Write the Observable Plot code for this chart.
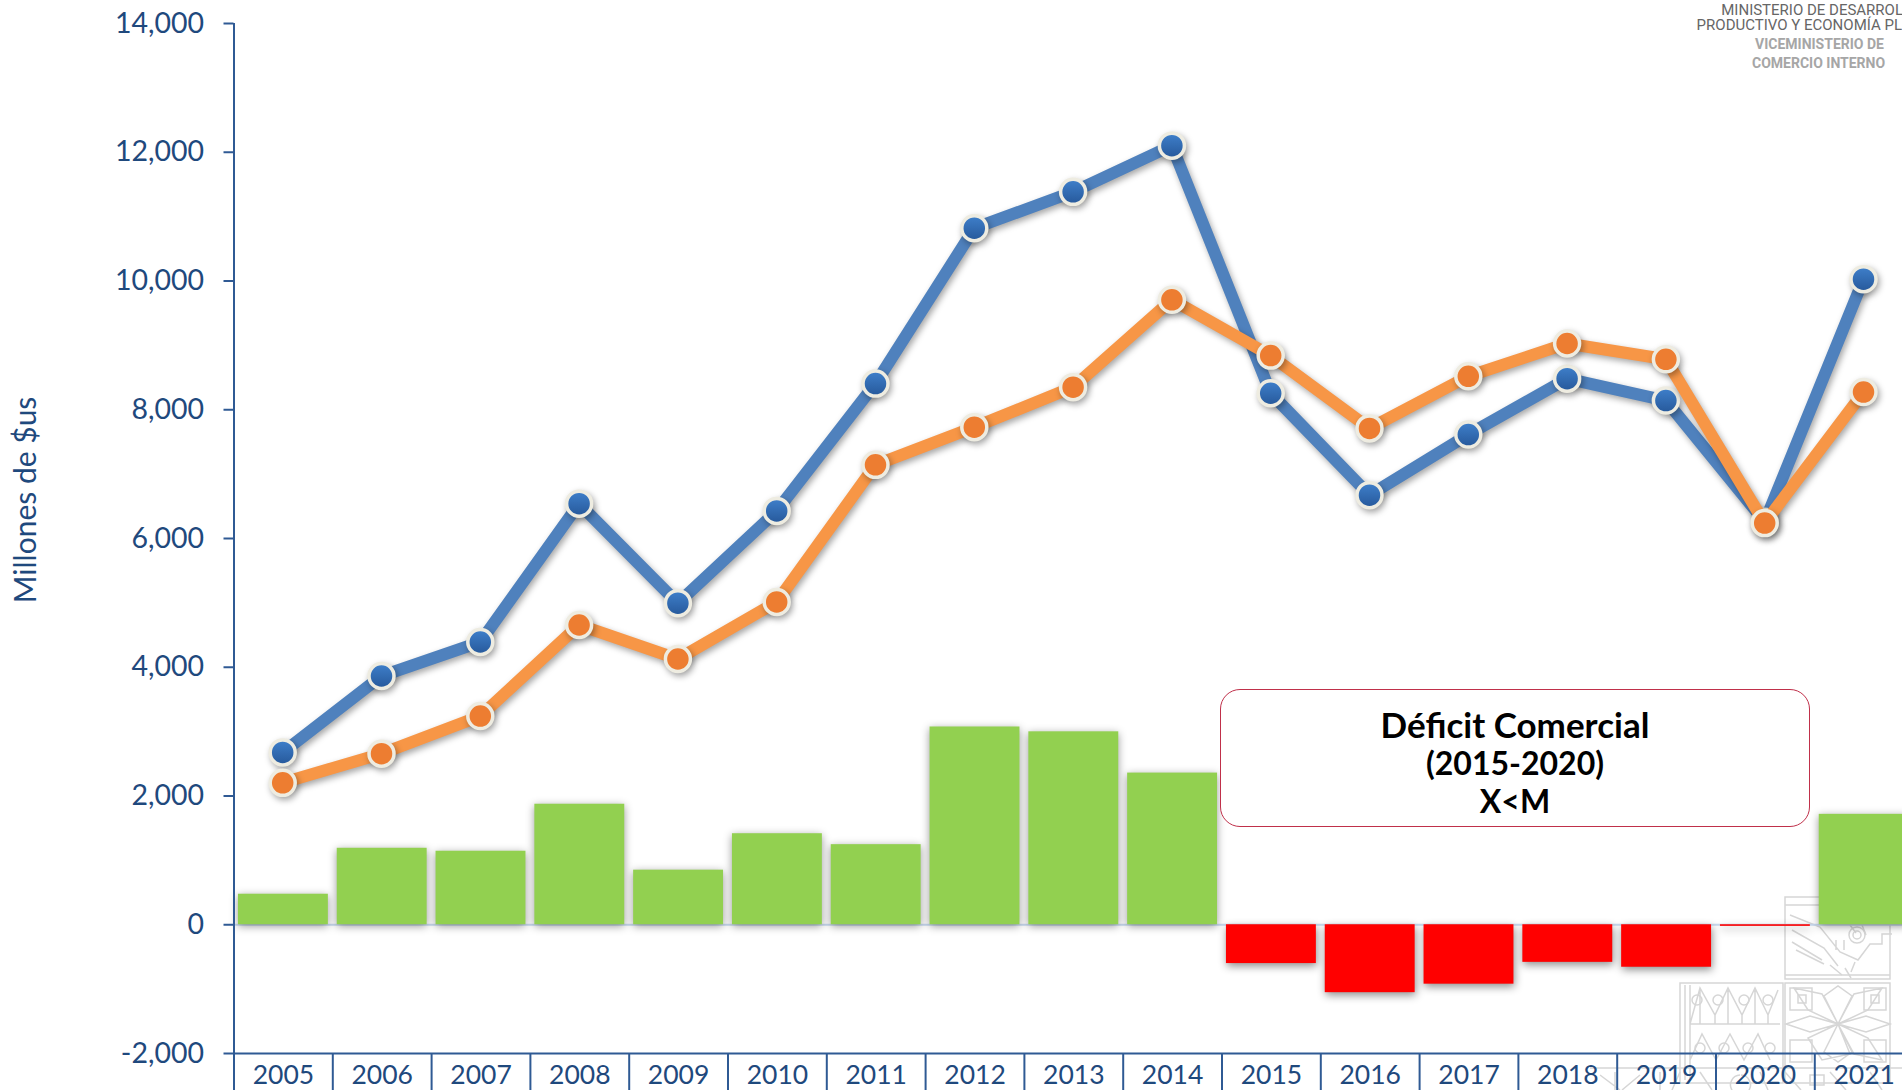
<!DOCTYPE html>
<html><head><meta charset="utf-8">
<script src="https://cdn.jsdelivr.net/npm/d3@7"></script>
<script src="https://cdn.jsdelivr.net/npm/@observablehq/plot@0.6"></script>
<style>
html,body{margin:0;padding:0;background:#fff;overflow:hidden;width:1902px;height:1090px}
#wrap{position:relative;width:1902px;height:1090px;font-family:Lato,sans-serif}
#wm{position:absolute;left:0;top:0;z-index:0}
#chart{position:absolute;left:0;top:0;z-index:1}
#chart svg{background:transparent}
.box{position:absolute;z-index:2;left:1220px;top:689px;width:588px;height:136px;border:1.5px solid #c0304a;border-radius:20px;background:#fff;text-align:center;font-weight:700;font-size:35px;line-height:38.5px;color:#000;box-sizing:content-box}
.box div:first-child{margin-top:15px}
.box div+div{font-size:32px}
.head{position:absolute;z-index:2;white-space:nowrap;font-family:Roboto,sans-serif;line-height:1}
.ylab{position:absolute;z-index:2;left:24px;top:500px;transform:translate(-50%,-50%) rotate(-90deg);font-size:30px;color:#1f497d;white-space:nowrap}
</style></head><body>
<div id="wrap">
<svg id="wm" width="1902" height="1090" fill="none" stroke="#d6d6d6" stroke-width="1.5">
  <rect x="1785" y="897" width="105" height="82"/>
  <path d="M1785 905h105M1785 975h105"/>
  <path d="M1790 915l30 12 20 25 18 8 12-16h12v-10h10M1792 930l32 18 14 18M1792 942l30 18M1796 950l28 14M1830 965l12 10M1850 925l6 8M1836 940v10M1844 940v10M1862 925l4 10M1845 968l6 10M1855 962l-4 10"/>
  <circle cx="1857" cy="935" r="8"/><circle cx="1857" cy="935" r="4"/>
  <rect x="1680" y="983" width="103" height="100"/>
  <path d="M1690 1024L1700 988L1715 1015L1728 988L1742 1015L1755 988L1768 1015L1778 990M1690 1024h90M1690 1060l12-26 14 26 14-26 14 26 14-26 12 26M1700 988v36M1715 1015v9M1728 988v36M1742 1015v9M1755 988v36M1768 1015v9M1690 985v95M1685 985v95"/>
  <circle cx="1697" cy="1000" r="5"/><circle cx="1718" cy="1000" r="5"/><circle cx="1744" cy="1000" r="5"/><circle cx="1768" cy="1000" r="5"/>
  <circle cx="1700" cy="1048" r="5"/><circle cx="1724" cy="1048" r="5"/><circle cx="1748" cy="1048" r="5"/><circle cx="1770" cy="1048" r="5"/>
  <rect x="1785" y="983" width="105" height="100"/>
  <path d="M1838 1024l-14-28 14-10 14 10zM1838 1024l14 28-14 10-14-10zM1838 1024l-30-14-14-22 28 6zM1838 1024l30-14 14-22-28 6zM1838 1024l-30 14 14 22 28-6zM1838 1024l30 14 14 22-28-6zM1838 1024l-28-8-24 8 24 8zM1838 1024l28-8 24 8-24 8z"/>
  <rect x="1790" y="988" width="22" height="22"/><rect x="1864" y="988" width="22" height="22"/>
  <rect x="1798" y="995" width="8" height="8"/><rect x="1871" y="995" width="8" height="8"/>
  <rect x="1790" y="1040" width="22" height="22"/><rect x="1864" y="1040" width="22" height="22"/>
  <path d="M1590 1068H1902M1600 1075l20 15M1640 1075l-18 15M1660 1072v18M1700 1072l12 18M1740 1075a10 10 0 1 0 1 0M1785 1072l16 18M1830 1072l16 18M1870 1072l12 18M1615 1072v18M1680 1072l-8 18M1760 1072l8 18M1810 1075h14v10h-14z"/>
</svg>
<div id="chart"></div>
<div class="ylab">Millones de $us</div>
<div class="box"><div>Déficit Comercial</div><div>(2015-2020)</div><div>X&lt;M</div></div>
<div class="head" style="right:-1px;top:3px;font-size:15px;color:#666;text-align:right">MINISTERIO DE DESARROL</div>
<div class="head" style="right:0;top:18px;font-size:15px;color:#666">PRODUCTIVO Y ECONOMÍA PL</div>
<div class="head" style="left:1755px;top:37px;font-size:14px;color:#a6a6a6;font-weight:700">VICEMINISTERIO DE</div>
<div class="head" style="left:1752px;top:56px;font-size:14px;color:#a6a6a6;font-weight:700">COMERCIO INTERNO</div>
</div>
<script>
const years = ["2005","2006","2007","2008","2009","2010","2011","2012","2013","2014","2015","2016","2017","2018","2019","2020","2021"];
const exportsX = [2677,3864,4392,6541,4995,6428,8407,10820,11385,12102,8256,6673,7615,8483,8143,6260,10028];
const importsM = [2205,2658,3242,4656,4128,5014,7144,7729,8351,9708,8841,7710,8520,9029,8784,6240,8275];
const balance  = [474,1188,1142,1872,848,1414,1244,3072,2997,2356,-603,-1055,-923,-584,-660,-25,1715];
const yTicks = [-2000,0,2000,4000,6000,8000,10000,12000,14000];
const navy = "#1f497d";
const axisBlue = "#2f5a94";
const fontFamily = "Lato, sans-serif";
const step = 98.8;
const shadow = "drop-shadow(2px 3px 3px rgba(0,0,0,0.35))";

const rows = years.map((year,i)=>({year,x:exportsX[i],m:importsM[i],b:balance[i]}));

const defs = () => {
  const ns = "http://www.w3.org/2000/svg";
  const d = document.createElementNS(ns,"defs");
  d.innerHTML = `<linearGradient id="blueDot" x1="0" y1="0" x2="0" y2="1"><stop offset="0" stop-color="#3f80cb"/><stop offset="1" stop-color="#26589a"/></linearGradient>`;
  return d;
};

const chart = Plot.plot({
  width:1902, height:1090,
  marginLeft:233.5, marginRight:0, marginTop:23, marginBottom:37,
  style:{background:"transparent",fontFamily,overflow:"hidden"},
  x:{type:"band",domain:years,range:[233.5,233.5+step*17],paddingInner:0.09,paddingOuter:0.045,round:false,axis:null},
  y:{domain:[-2000,14000],axis:null},
  marks:[
    defs,
    Plot.ruleY([0],{stroke:"#c9daf0",strokeWidth:2}),
    Plot.barY(rows.filter(r=>r.b>=0),{x:"year",y1:0,y2:"b",fill:"#92d050",imageFilter:"drop-shadow(0 2px 4px rgba(0,0,0,0.4))"}),
    Plot.barY(rows.filter(r=>r.b<0),{x:"year",y1:0,y2:"b",fill:"#ff0000",imageFilter:"drop-shadow(1px 3px 4px rgba(0,0,0,0.45))"}),
    Plot.ruleX(["2005"],{x:d=>d,y1:14000,y2:-2600,dx:-step/2,stroke:axisBlue,strokeWidth:2}),
    Plot.ruleX(years,{x:d=>d,y1:-2000,y2:-2600,dx:-step/2,stroke:axisBlue,strokeWidth:2}),
    Plot.ruleY([-2000],{stroke:axisBlue,strokeWidth:2}),
    Plot.axisY({ticks:yTicks,tickSize:10,tickPadding:20,tickFormat:d=>d.toLocaleString("en-US"),label:null,fontSize:28.5,color:navy,stroke:axisBlue,strokeWidth:2,fill:navy}),
    Plot.axisX({anchor:"bottom",tickSize:0,tickPadding:12,label:null,fontSize:26.5,fill:navy}),
    Plot.line(rows,{x:"year",y:"x",dx:-0.7,stroke:"#4f81bd",strokeWidth:12,imageFilter:shadow}),
    Plot.dot(rows,{x:"year",y:"x",dx:-0.7,r:12.5,fill:"url(#blueDot)",stroke:"#eeece1",strokeWidth:3.5,imageFilter:shadow}),
    Plot.line(rows,{x:"year",y:"m",dx:-0.7,stroke:"#f79646",strokeWidth:12,imageFilter:shadow}),
    Plot.dot(rows,{x:"year",y:"m",dx:-0.7,r:12.5,fill:"#ed7d31",stroke:"#eeece1",strokeWidth:3.5,imageFilter:shadow})
  ]
});
document.getElementById("chart").appendChild(chart);
</script>
</body></html>
